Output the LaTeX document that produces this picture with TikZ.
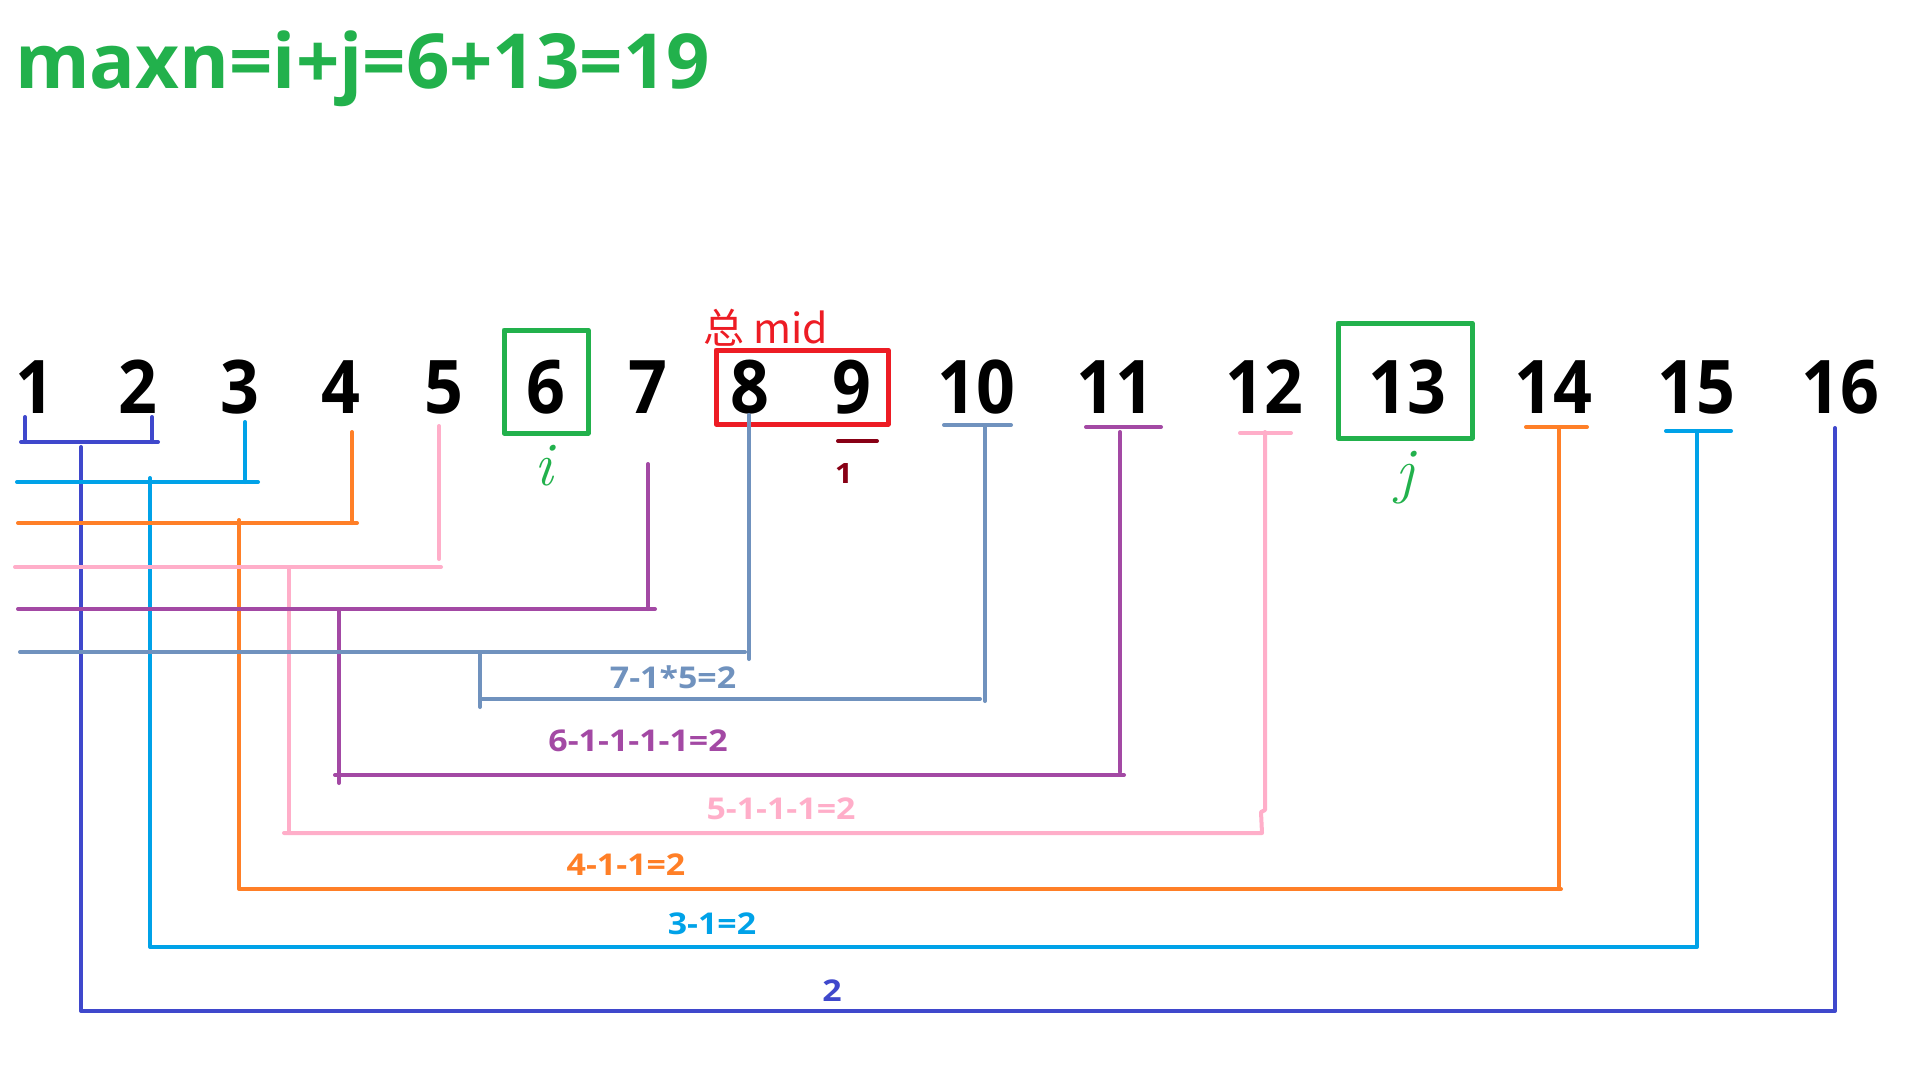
\documentclass[tikz,border=0pt]{standalone}
\usepackage{fontspec}
\newfontfamily\numfont[FakeStretch=0.92]{Open Sans}
\newfontfamily\titlefont[FakeStretch=1.0]{Open Sans}
\newfontfamily\labfont[FakeStretch=1.13]{Open Sans}
\newfontfamily\cjk{Noto Sans CJK SC}
\definecolor{cgreen}{HTML}{22B14C}
\definecolor{cred}{HTML}{ED1C24}
\definecolor{cdred}{HTML}{880015}
\definecolor{cindigo}{HTML}{3F48CC}
\definecolor{cltblue}{HTML}{00A2E8}
\definecolor{corange}{HTML}{FF7F27}
\definecolor{cpink}{HTML}{FFAEC9}
\definecolor{cpurple}{HTML}{A349A4}
\definecolor{csteel}{HTML}{7092BE}
\begin{document}
\begin{tikzpicture}[x=1pt,y=-1pt,line cap=round,line join=round,
  num/.style={font=\numfont\bfseries\fontsize{74}{80}\selectfont,anchor=base,inner sep=0pt},
  lab/.style={font=\labfont\bfseries\fontsize{30}{34}\selectfont,inner sep=0pt},
  ln/.style={line width=4pt},
  boxline/.style={line width=5pt}]
\fill[white] (0,0) rectangle (1920,1080);
\useasboundingbox (0,0) rectangle (1920,1080);

% title
\node (title) [anchor=base west,inner sep=0pt,text=cgreen,
  font=\titlefont\bfseries\fontsize{76}{80}\selectfont] at (15,88) {maxn=i+j=6+13=19};

% numbers
\foreach \n/\x in {1/35,2/138,3/240,4/341,5/444,6/546,7/648,8/750,9/852,
  10/976,11/1115,12/1264,13/1407,14/1553,15/1696,16/1840}
  \node (n\n) [num] at (\x,413) {\n};

% boxes
\draw[cgreen,boxline] (504,330) rectangle (588,433);
\draw[cred,boxline] (716,350) rectangle (888,424);
\draw[cgreen,boxline] (1338,323) rectangle (1472,438);

% handwriting
\node (mid) [anchor=base west,inner sep=0pt,text=cred,font=\cjk\fontsize{41}{44}\selectfont] at (703,343) {总 mid};
\node (i) [text=cgreen,inner sep=0pt,font=\itshape\fontsize{62}{62}\selectfont] at (544,466) {i};
\node (j) [text=cgreen,inner sep=0pt,font=\itshape\fontsize{62}{62}\selectfont] at (1405,478) {j};

% dark red
\draw[cdred,ln] (838,441) -- (877,441);
\node (one) [lab,text=cdred,font=\labfont\bfseries\fontsize{28}{30}\selectfont] at (844,473) {1};

% indigo
\draw[cindigo,ln] (25,417) -- (25,442);
\draw[cindigo,ln] (152,417) -- (152,442);
\draw[cindigo,ln] (21,442) -- (158,442);
\draw[cindigo,ln] (81,447) -- (81,1011) -- (1835,1011) -- (1835,428);
\node (l2) [lab,text=cindigo] at (832,991) {2};

% light blue
\draw[cltblue,ln] (245,422) -- (245,482);
\draw[cltblue,ln] (17,482) -- (258,482);
\draw[cltblue,ln] (150,478) -- (150,947) -- (1697,947) -- (1697,431);
\draw[cltblue,ln] (1666,431) -- (1731,431);
\node (l3) [lab,text=cltblue] at (712,924) {3-1=2};

% orange
\draw[corange,ln] (352,432) -- (352,523);
\draw[corange,ln] (18,523) -- (357,523);
\draw[corange,ln] (239,520) -- (239,889) -- (1561,889);
\draw[corange,ln] (1559,889) -- (1559,427);
\draw[corange,ln] (1526,427) -- (1587,427);
\node (l4) [lab,text=corange] at (626,865) {4-1-1=2};

% pink
\draw[cpink,ln] (439,426) -- (439,559);
\draw[cpink,ln] (15,567) -- (441,567);
\draw[cpink,ln] (289,567) -- (289,833);
\draw[cpink,ln] (284,833) -- (1262,833) -- (1261,812) -- (1265,810) -- (1265,432);
\draw[cpink,ln] (1240,433) -- (1291,433);
\node (l5) [lab,text=cpink] at (781,809) {5-1-1-1=2};

% purple
\draw[cpurple,ln] (648,464) -- (648,609);
\draw[cpurple,ln] (18,609) -- (655,609);
\draw[cpurple,ln] (339,609) -- (339,783);
\draw[cpurple,ln] (335,775) -- (1124,775);
\draw[cpurple,ln] (1120,772) -- (1120,432);
\draw[cpurple,ln] (1086,427) -- (1161,427);
\node (l6) [lab,text=cpurple] at (638,741) {6-1-1-1-1=2};

% steel blue
\draw[csteel,ln] (749,415) -- (749,659);
\draw[csteel,ln] (20,652) -- (745,652);
\draw[csteel,ln] (480,652) -- (480,707);
\draw[csteel,ln] (480,699) -- (980,699);
\draw[csteel,ln] (985,701) -- (985,425);
\draw[csteel,ln] (944,425) -- (1011,425);
\node (l7) [lab,text=csteel] at (673,677) {7-1*5=2};
\end{tikzpicture}
\end{document}
